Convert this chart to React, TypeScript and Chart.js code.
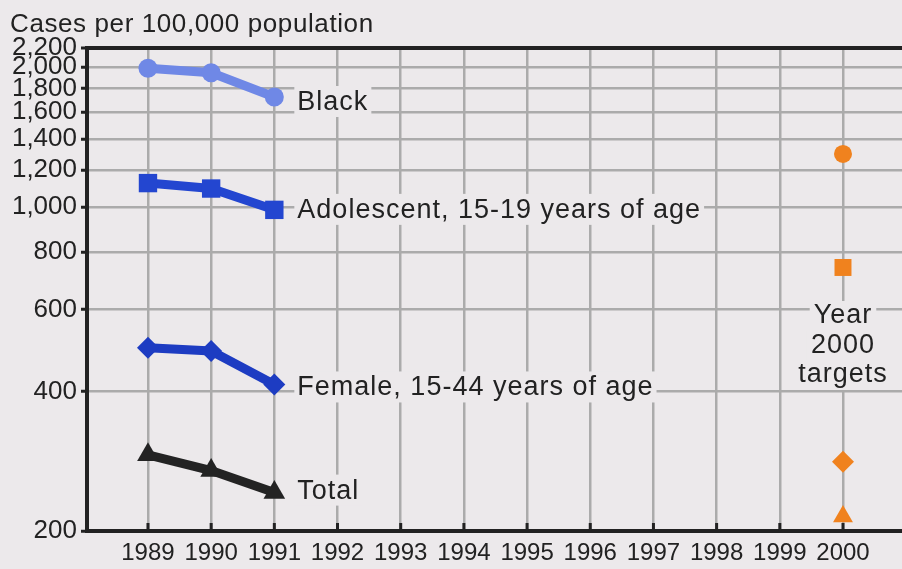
import { useEffect, useRef } from "react";
import { Chart, registerables } from "chart.js";

Chart.register(...registerables);

// ---- data ----
const years = [1989, 1990, 1991];
const blackRates = [1990, 1945, 1725];
const adolescentRates = [1125, 1095, 985];
const femaleRates = [497, 489, 414];
const totalRates = [292, 270, 242];
const targetYear = 2000;
const targetRates = [1300, 740, 282, 215];
const seriesLabels = [
  "Black",
  "Adolescent, 15-19 years of age",
  "Female, 15-44 years of age",
  "Total",
];
const targetLabelLines = ["Year", "2000", "targets"];
const yTickValues = [200, 400, 600, 800, 1000, 1200, 1400, 1600, 1800, 2000, 2200];
const xTickValues = [1989, 1990, 1991, 1992, 1993, 1994, 1995, 1996, 1997, 1998, 1999, 2000];
const yTitle = "Cases per 100,000 population";

// ---- styles ----
const BG = "#ECE9EB";
const INK = "#222222";
const GRID = "#ABABAB";
const FONT = '"Liberation Sans", Arial, Helvetica, sans-serif';
const C_BLACK = "#6F88E6";
const C_ADOL = "#2346D0";
const C_FEMALE = "#1D3CC2";
const C_TOTAL = "#232323";
const C_TARGET = "#F0821E";
const LABEL_DY = [13, 8, 11, 6];

const annotate = {
  id: "annotate",
  beforeDatasetsDraw(chart: any) {
    const ctx = chart.ctx as CanvasRenderingContext2D;
    const xs = chart.scales.x;
    const ys = chart.scales.y;
    const area = chart.chartArea;
    ctx.save();
    // small tick stubs above the x axis
    ctx.strokeStyle = INK;
    ctx.lineWidth = 3;
    xTickValues.forEach((v) => {
      const px = xs.getPixelForValue(v);
      ctx.beginPath();
      ctx.moveTo(px, area.bottom);
      ctx.lineTo(px, area.bottom - 8);
      ctx.stroke();
    });
    // axis title
    ctx.font = `26px ${FONT}`;
    (ctx as any).letterSpacing = "0.6px";
    ctx.fillStyle = INK;
    ctx.textAlign = "left";
    ctx.textBaseline = "alphabetic";
    ctx.fillText(yTitle, 10, 32);
    // series labels
    ctx.font = `27px ${FONT}`;
    (ctx as any).letterSpacing = "1px";
    const lastYear = years[years.length - 1];
    const lx = xs.getPixelForValue(lastYear) + 23;
    [blackRates, adolescentRates, femaleRates, totalRates].forEach((arr, i) => {
      const by = ys.getPixelForValue(arr[arr.length - 1]) + LABEL_DY[i];
      const w = ctx.measureText(seriesLabels[i]).width;
      ctx.fillStyle = BG;
      ctx.fillRect(lx - 3, by - 24, w + 6, 31);
      ctx.fillStyle = INK;
      ctx.fillText(seriesLabels[i], lx, by);
    });
    // target label
    const tx = xs.getPixelForValue(targetYear);
    ctx.textAlign = "center";
    targetLabelLines.forEach((t, i) => {
      const by = 323 + i * 29.5;
      const w = ctx.measureText(t).width;
      ctx.fillStyle = BG;
      ctx.fillRect(tx - w / 2 - 4, by - 22, w + 8, 30);
    });
    targetLabelLines.forEach((t, i) => {
      const by = 323 + i * 29.5;
      ctx.fillStyle = INK;
      ctx.fillText(t, tx, by);
    });
    ctx.restore();
  },
};

function seriesData(vals: number[]) {
  return years.map((yr, i) => ({ x: yr, y: vals[i] }));
}

export default function App() {
  const ref = useRef<HTMLCanvasElement | null>(null);

  useEffect(() => {
    if (!ref.current) return;
    const lineDs = (label: string, vals: number[], color: string, style: string, r: number) => ({
      label,
      data: seriesData(vals),
      borderColor: color,
      backgroundColor: color,
      pointBackgroundColor: color,
      pointBorderColor: color,
      pointBorderWidth: 0,
      borderWidth: 9,
      pointStyle: style,
      pointRadius: r,
      pointHoverRadius: r,
      tension: 0,
      clip: false,
    });
    const chart = new Chart(ref.current, {
      type: "line",
      data: {
        datasets: [
          lineDs(seriesLabels[0], blackRates, C_BLACK, "circle", 9.5),
          lineDs(seriesLabels[1], adolescentRates, C_ADOL, "rect", 13),
          lineDs(seriesLabels[2], femaleRates, C_FEMALE, "rectRot", 11),
          lineDs(seriesLabels[3], totalRates, C_TOTAL, "triangle", 12.5),
          {
            label: "Year 2000 targets",
            data: targetRates.map((v) => ({ x: targetYear, y: v })),
            showLine: false,
            backgroundColor: C_TARGET,
            borderColor: C_TARGET,
            pointBackgroundColor: C_TARGET,
            pointBorderWidth: 0,
            pointStyle: ["circle", "rect", "rectRot", "triangle"] as any,
            pointRadius: [9, 12, 11, 11.5],
            clip: false,
          } as any,
        ],
      },
      options: {
        animation: false,
        responsive: false,
        devicePixelRatio: 1,
        events: [],
        layout: { autoPadding: false, padding: { top: 48, left: 0, right: 0, bottom: 0 } },
        plugins: {
          legend: { display: false },
          title: { display: false },
          tooltip: { enabled: false },
        },
        scales: {
          x: {
            type: "linear",
            min: 1988.035,
            max: 2000.934,
            afterBuildTicks: (s: any) => {
              s.ticks = xTickValues.map((v) => ({ value: v }));
            },
            afterFit: (s: any) => {
              s.height = 38;
              s.paddingLeft = 0;
              s.paddingRight = 0;
            },
            ticks: {
              autoSkip: false,
              maxRotation: 0,
              minRotation: 0,
              padding: 8,
              color: INK,
              font: { family: FONT, size: 24 },
              callback: (v: any) => String(v),
            },
            grid: { color: GRID, lineWidth: 2.5, drawTicks: false },
            border: { color: INK, width: 4 },
          },
          y: {
            type: "logarithmic",
            min: 200,
            max: 2200,
            afterBuildTicks: (s: any) => {
              s.ticks = yTickValues.map((v) => ({ value: v }));
            },
            afterFit: (s: any) => {
              s.width = 87;
              s.paddingTop = 0;
              s.paddingBottom = 0;
            },
            ticks: {
              autoSkip: false,
              padding: 4,
              color: INK,
              font: { family: FONT, size: 26 },
              callback: (v: any) => Number(v).toLocaleString("en-US"),
            },
            grid: {
              color: (c: any) =>
                c.tick && c.tick.value === 2200 ? INK : c.tick && c.tick.value === 200 ? "rgba(0,0,0,0)" : GRID,
              lineWidth: (c: any) => (c.tick && c.tick.value === 2200 ? 4 : 2.5),
              drawTicks: true,
              tickLength: 6,
              tickColor: INK,
              tickWidth: 3,
            },
            border: { color: INK, width: 4 },
          },
        },
      },
      plugins: [annotate],
    } as any);
    return () => chart.destroy();
  }, []);

  return (
    <div style={{ position: "fixed", left: 0, top: 0, width: 902, height: 569, background: BG }}>
      <canvas ref={ref} width={902} height={569} style={{ display: "block", width: 902, height: 569 }} />
    </div>
  );
}
